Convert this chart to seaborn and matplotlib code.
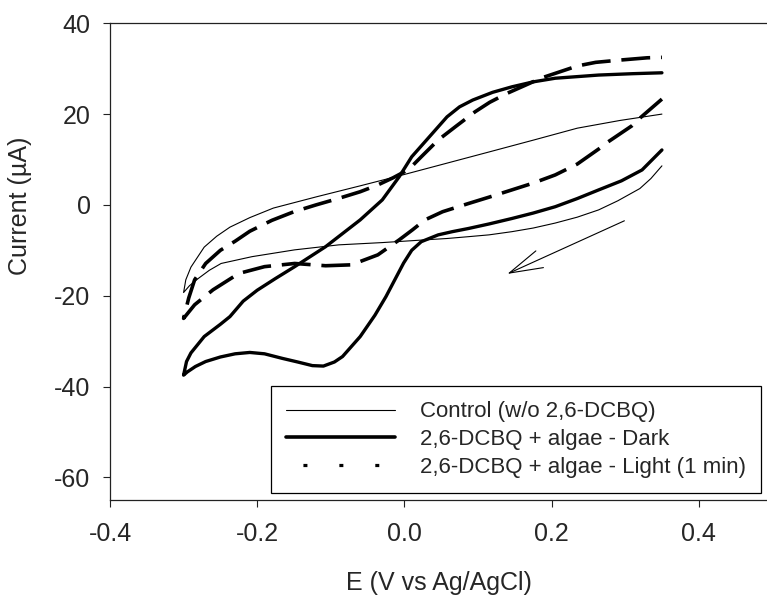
import matplotlib
matplotlib.use("Agg")
import matplotlib.pyplot as plt
import seaborn as sns
import pandas as pd
from matplotlib.lines import Line2D

# ---------------- data ----------------
# each curve: cathodic branch (0.35 -> -0.3) followed by anodic branch (-0.3 -> 0.35)
ctrl_x = [0.35, 0.335, 0.32, 0.29, 0.264, 0.235, 0.205, 0.175, 0.146, 0.115, 0.087, 0.058, 0.028,
          -0.03, -0.089, -0.149, -0.207, -0.249, -0.265, -0.28, -0.292, -0.3,
          -0.297, -0.29, -0.272, -0.255, -0.237, -0.21, -0.178, -0.119, -0.06, -0.007,
          0.058, 0.116, 0.176, 0.235, 0.293, 0.35]
ctrl_y = [8.6, 5.8, 3.6, 0.9, -1.1, -2.7, -4.0, -5.1, -5.9, -6.6, -7.0, -7.4, -7.7,
          -8.3, -8.8, -9.9, -11.4, -12.9, -14.4, -16.2, -17.8, -19.3,
          -16.5, -13.7, -9.3, -6.9, -4.9, -2.8, -0.7, 1.8, 4.2, 6.4,
          9.2, 11.7, 14.3, 16.9, 18.6, 20.0]

dark_x = [0.35, 0.323, 0.295, 0.264, 0.235, 0.205, 0.175, 0.146, 0.115, 0.087, 0.065, 0.046, 0.023,
          0.01, -0.001, -0.013, -0.025, -0.04, -0.06, -0.084, -0.095, -0.11, -0.125, -0.145,
          -0.166, -0.19, -0.21, -0.23, -0.25, -0.27, -0.284, -0.295, -0.3,
          -0.296, -0.29, -0.272, -0.25, -0.237, -0.219, -0.2, -0.175, -0.149, -0.107, -0.06,
          -0.03, -0.007, 0.01, 0.034, 0.058, 0.075, 0.093, 0.12, 0.146, 0.175, 0.205, 0.264,
          0.31, 0.35]
dark_y = [12.1, 7.7, 5.3, 3.3, 1.4, -0.4, -1.8, -3.0, -4.2, -5.2, -5.9, -6.6, -8.1,
          -10.0, -12.8, -16.5, -20.2, -24.3, -29.0, -33.4, -34.6, -35.5, -35.4, -34.6,
          -33.8, -32.8, -32.5, -32.8, -33.5, -34.5, -35.6, -36.8, -37.5,
          -34.5, -32.6, -29.0, -26.3, -24.6, -21.2, -18.8, -16.2, -13.6, -9.2, -3.3,
          1.1, 6.2, 10.6, 15.0, 19.4, 21.6, 23.1, 24.8, 26.0, 27.1, 27.9, 28.6,
          28.9, 29.1]

light_x = [0.35, 0.32, 0.309, 0.277, 0.264, 0.235, 0.205, 0.175, 0.146, 0.115, 0.087, 0.052, 0.028,
           0.011, -0.007, -0.036, -0.072, -0.107, -0.149, -0.19, -0.225, -0.26, -0.285, -0.3,
           -0.293, -0.285, -0.27, -0.25, -0.23, -0.21, -0.18, -0.15, -0.12, -0.09, -0.06,
           -0.036, -0.015, 0.0, 0.012, 0.023, 0.046, 0.07, 0.096, 0.116, 0.14, 0.165, 0.187,
           0.211, 0.235, 0.26, 0.293, 0.33, 0.35]
light_y = [23.3, 19.1, 17.4, 13.9, 12.3, 9.0, 6.6, 4.8, 3.3, 1.7, 0.3, -1.5, -3.3,
           -5.5, -7.7, -11.0, -13.2, -13.4, -12.9, -13.6, -15.1, -18.7, -22.0, -25.0,
           -20.5, -16.5, -12.9, -10.0, -8.0, -5.8, -3.4, -1.5, 0.0, 1.4, 2.9,
           4.4, 6.0, 7.3, 8.8, 10.6, 14.3, 17.3, 20.5, 22.6, 24.6, 26.4, 28.0,
           29.3, 30.6, 31.4, 31.9, 32.4, 32.5]

labels = ["Control (w/o 2,6-DCBQ)", "2,6-DCBQ + algae - Dark", "2,6-DCBQ + algae - Light (1 min)"]
x_ticks = [-0.4, -0.2, 0.0, 0.2, 0.4]
x_tick_labels = ["-0.4", "-0.2", "0.0", "0.2", "0.4"]
y_ticks = [-60, -40, -20, 0, 20, 40]
y_tick_labels = ["-60", "-40", "-20", "0", "20", "40"]
arrow_start = (0.299, -3.5)
arrow_end = (0.140, -15.2)

# ---------------- style ----------------
sns.set_style("ticks")
plt.rcParams["font.family"] = ["Liberation Sans", "DejaVu Sans"]
plt.rcParams["axes.edgecolor"] = "#222222"
plt.rcParams["axes.unicode_minus"] = False

fig = plt.figure(figsize=(7.67, 5.96), dpi=100)
ax = fig.add_axes([110 / 767, 96 / 596, 657 / 767, 476.7 / 596])

df_c = pd.DataFrame({"E": ctrl_x, "I": ctrl_y})
df_d = pd.DataFrame({"E": dark_x, "I": dark_y})
df_l = pd.DataFrame({"E": light_x, "I": light_y})

sns.lineplot(data=df_c, x="E", y="I", sort=False, estimator=None, ax=ax,
             color="black", lw=0.8)
sns.lineplot(data=df_d, x="E", y="I", sort=False, estimator=None, ax=ax,
             color="black", lw=2.4)
sns.lineplot(data=df_l, x="E", y="I", sort=False, estimator=None, ax=ax,
             color="black", lw=2.6, linestyle=(0, (8.0, 3.0)))

ax.annotate("", xy=arrow_end, xytext=arrow_start,
            arrowprops=dict(arrowstyle="->,head_length=1.2,head_width=0.33",
                            lw=0.8, color="black", shrinkA=0, shrinkB=0,
                            mutation_scale=20))

ax.set_xlim(-0.4, 0.4928)
ax.set_ylim(-65, 40)
ax.set_xticks(x_ticks)
ax.set_xticklabels(x_tick_labels)
ax.set_yticks(y_ticks)
ax.set_yticklabels(y_tick_labels)
ax.tick_params(axis="both", direction="out", length=5, width=0.8, labelsize=18,
               color="#222222", pad=9)
ax.tick_params(axis="x", pad=11)
for s in ["left", "bottom", "top"]:
    ax.spines[s].set_visible(True)
    ax.spines[s].set_linewidth(0.9)
ax.spines["right"].set_visible(False)

ax.set_xlabel("E (V vs Ag/AgCl)", fontsize=18, labelpad=18)
ax.set_ylabel("Current (µA)", fontsize=18)
ax.yaxis.set_label_coords(-0.119, 0.617)

handles = [
    Line2D([], [], color="black", lw=0.8),
    Line2D([], [], color="black", lw=2.6),
    Line2D([], [], color="black", lw=2.3, linestyle=(5.95, (1.25, 10.0))),
]
leg = ax.legend(handles, labels, loc="lower right", bbox_to_anchor=(0.991, 0.014),
                fontsize=16, frameon=True, fancybox=False, shadow=False,
                handlelength=4.9, handletextpad=1.1, borderpad=0.7,
                labelspacing=0.3, borderaxespad=0)
leg.get_frame().set_edgecolor("black")
leg.get_frame().set_linewidth(0.9)
leg.get_frame().set_alpha(1)

fig.savefig("out.png", dpi=100)
